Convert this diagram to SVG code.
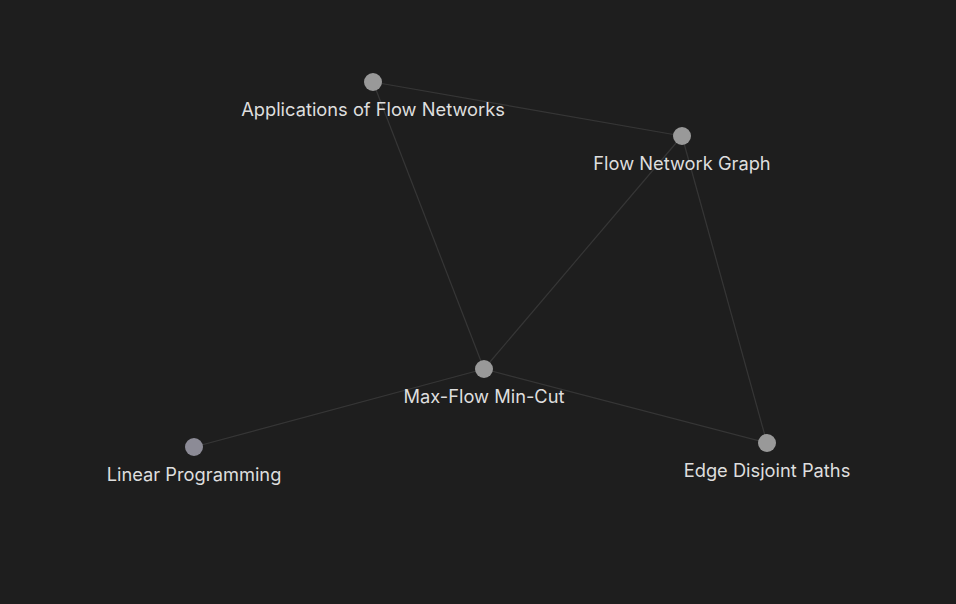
<svg xmlns="http://www.w3.org/2000/svg" width="956" height="604" viewBox="0 0 956 604">
<style>
.e{stroke:#363636;stroke-width:1.2;fill:none}
.n{fill:#999999}
.t{font-family:Inter,"Noto Sans",sans-serif;font-size:18.3px;fill:#dedede;text-anchor:middle}
</style>
<rect width="956" height="604" fill="#1e1e1e"/>
<g id="edges">
<line class="e" x1="373" y1="82" x2="682" y2="136"/>
<line class="e" x1="373" y1="82" x2="484" y2="369"/>
<line class="e" x1="682" y1="136" x2="484" y2="369"/>
<line class="e" x1="682" y1="136" x2="767" y2="443"/>
<line class="e" x1="484" y1="369" x2="194" y2="447"/>
<line class="e" x1="484" y1="369" x2="767" y2="443"/>
</g>
<g id="n-applications"><circle class="n" cx="373" cy="82" r="9"/><text class="t" x="373" y="116">Applications of Flow Networks</text></g>
<g id="n-flow-network-graph"><circle class="n" cx="682" cy="136" r="9"/><text class="t" x="682" y="170">Flow Network Graph</text></g>
<g id="n-max-flow"><circle class="n" cx="484" cy="369" r="9"/><text class="t" x="484" y="403">Max-Flow Min-Cut</text></g>
<g id="n-linear-programming"><circle cx="194" cy="447" r="9" fill="#8c8b96"/><text class="t" x="194" y="481">Linear Programming</text></g>
<g id="n-edge-disjoint"><circle class="n" cx="767" cy="443" r="9"/><text class="t" x="767" y="477">Edge Disjoint Paths</text></g>
</svg>
